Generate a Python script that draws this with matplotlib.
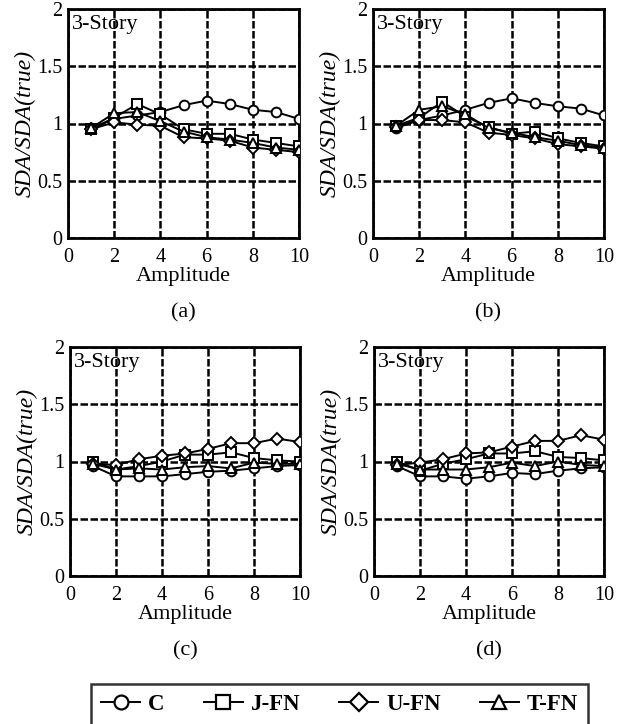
import matplotlib
matplotlib.use("Agg")
import matplotlib.pyplot as plt
from matplotlib.lines import Line2D

plt.rcParams['font.family'] = ['Liberation Serif', 'DejaVu Serif']

amplitude = [1, 2, 3, 4, 5, 6, 7, 8, 9, 10]
series_names = ["C", "J-FN", "U-FN", "T-FN"]
panel_labels = ["(a)", "(b)", "(c)", "(d)"]

a_C    = [0.96, 1.04, 1.07, 1.10, 1.16, 1.20, 1.17, 1.12, 1.10, 1.04]
a_JFN  = [0.95, 1.05, 1.17, 1.08, 0.95, 0.91, 0.91, 0.86, 0.83, 0.80]
a_UFN  = [0.95, 1.01, 0.99, 0.98, 0.88, 0.87, 0.85, 0.79, 0.77, 0.75]
a_TFN  = [0.96, 1.09, 1.10, 1.02, 0.93, 0.88, 0.86, 0.83, 0.79, 0.77]

b_C    = [0.96, 1.03, 1.07, 1.12, 1.18, 1.22, 1.18, 1.15, 1.13, 1.07]
b_JFN  = [0.98, 1.05, 1.19, 1.06, 0.97, 0.91, 0.93, 0.87, 0.83, 0.80]
b_UFN  = [0.97, 1.03, 1.03, 1.01, 0.92, 0.90, 0.87, 0.82, 0.80, 0.78]
b_TFN  = [0.98, 1.12, 1.15, 1.08, 0.96, 0.92, 0.88, 0.85, 0.81, 0.79]

c_C    = [0.96, 0.87, 0.87, 0.87, 0.89, 0.91, 0.92, 0.94, 0.96, 0.97]
c_JFN  = [1.00, 0.93, 0.96, 1.00, 1.06, 1.06, 1.08, 1.03, 1.01, 1.00]
c_UFN  = [0.98, 0.97, 1.02, 1.05, 1.07, 1.11, 1.16, 1.16, 1.20, 1.17]
c_TFN  = [0.98, 0.93, 0.94, 0.93, 0.95, 0.96, 0.94, 0.99, 0.98, 0.98]

d_C    = [0.96, 0.87, 0.87, 0.85, 0.87, 0.90, 0.89, 0.92, 0.94, 0.95]
d_JFN  = [1.00, 0.92, 0.98, 1.02, 1.07, 1.07, 1.09, 1.04, 1.03, 1.01]
d_UFN  = [0.97, 0.99, 1.02, 1.07, 1.08, 1.13, 1.18, 1.18, 1.23, 1.19]
d_TFN  = [0.98, 0.93, 0.93, 0.93, 0.95, 0.99, 0.96, 1.00, 0.97, 0.96]

panels = [
    [a_C, a_JFN, a_UFN, a_TFN],
    [b_C, b_JFN, b_UFN, b_TFN],
    [c_C, c_JFN, c_UFN, c_TFN],
    [d_C, d_JFN, d_UFN, d_TFN],
]

markers = ['o', 's', 'D', '^']
msizes = [7, 7, 6, 7]

W, H = 619, 724
fig = plt.figure(figsize=(W / 100, H / 100), dpi=100)

# axes rectangles in pixels (left, top, right, bottom)
rects = [(68, 9, 299, 238), (373, 9, 604, 238), (70, 347, 300, 576), (374, 347, 604, 576)]

for i, (l, t, r, b) in enumerate(rects):
    ax = fig.add_axes([l / W, 1 - b / H, (r - l) / W, (b - t) / H])
    for s, vals in enumerate(panels[i]):
        ax.plot(amplitude, vals, color='black', lw=1.4, marker=markers[s],
                ms=msizes[s], mfc='white', mec='black', mew=1.4, zorder=3)
    ax.set_xlim(0, 10)
    ax.set_ylim(0, 2)
    ax.set_xticks([0, 2, 4, 6, 8, 10])
    ax.set_yticks([0, 0.5, 1, 1.5, 2])
    ax.set_yticklabels(['0', '0.5', '1', '1.5', '2'])
    ax.grid(True, color='black', linestyle=(0, (3, 1)), linewidth=1.8)
    ax.tick_params(axis='x', labelsize=14.5, length=0, pad=7)
    ax.tick_params(axis='y', labelsize=14.5, length=0, pad=4)
    for sp in ax.spines.values():
        sp.set_linewidth(2)
    ax.set_xlabel('Amplitude', fontsize=16, labelpad=0)
    ax.set_ylabel('SDA/SDA(true)', fontsize=17, fontstyle='italic', labelpad=1)
    ax.text(0.015, 0.975, '3-Story', transform=ax.transAxes, fontsize=16,
            ha='left', va='top')
    ax.text(0.5, -0.325, panel_labels[i], transform=ax.transAxes, fontsize=16,
            ha='center', va='center')

handles = [Line2D([0], [0], color='black', lw=1.4, marker=markers[s], ms=msizes[s] + 3,
                  mfc='white', mec='black', mew=1.6) for s in range(4)]
leg = fig.legend(handles, series_names, loc='upper center',
                 bbox_to_anchor=(339.5 / W, 1 - 684 / H),
                 ncol=4, frameon=True, fancybox=False, edgecolor='black',
                 prop={'size': 16.5, 'weight': 'bold'}, handlelength=1.7,
                 columnspacing=1.7, handletextpad=0.35, borderpad=0.45,
                 borderaxespad=0)
leg.get_frame().set_linewidth(1.8)

fig.savefig('out.png', dpi=100)
